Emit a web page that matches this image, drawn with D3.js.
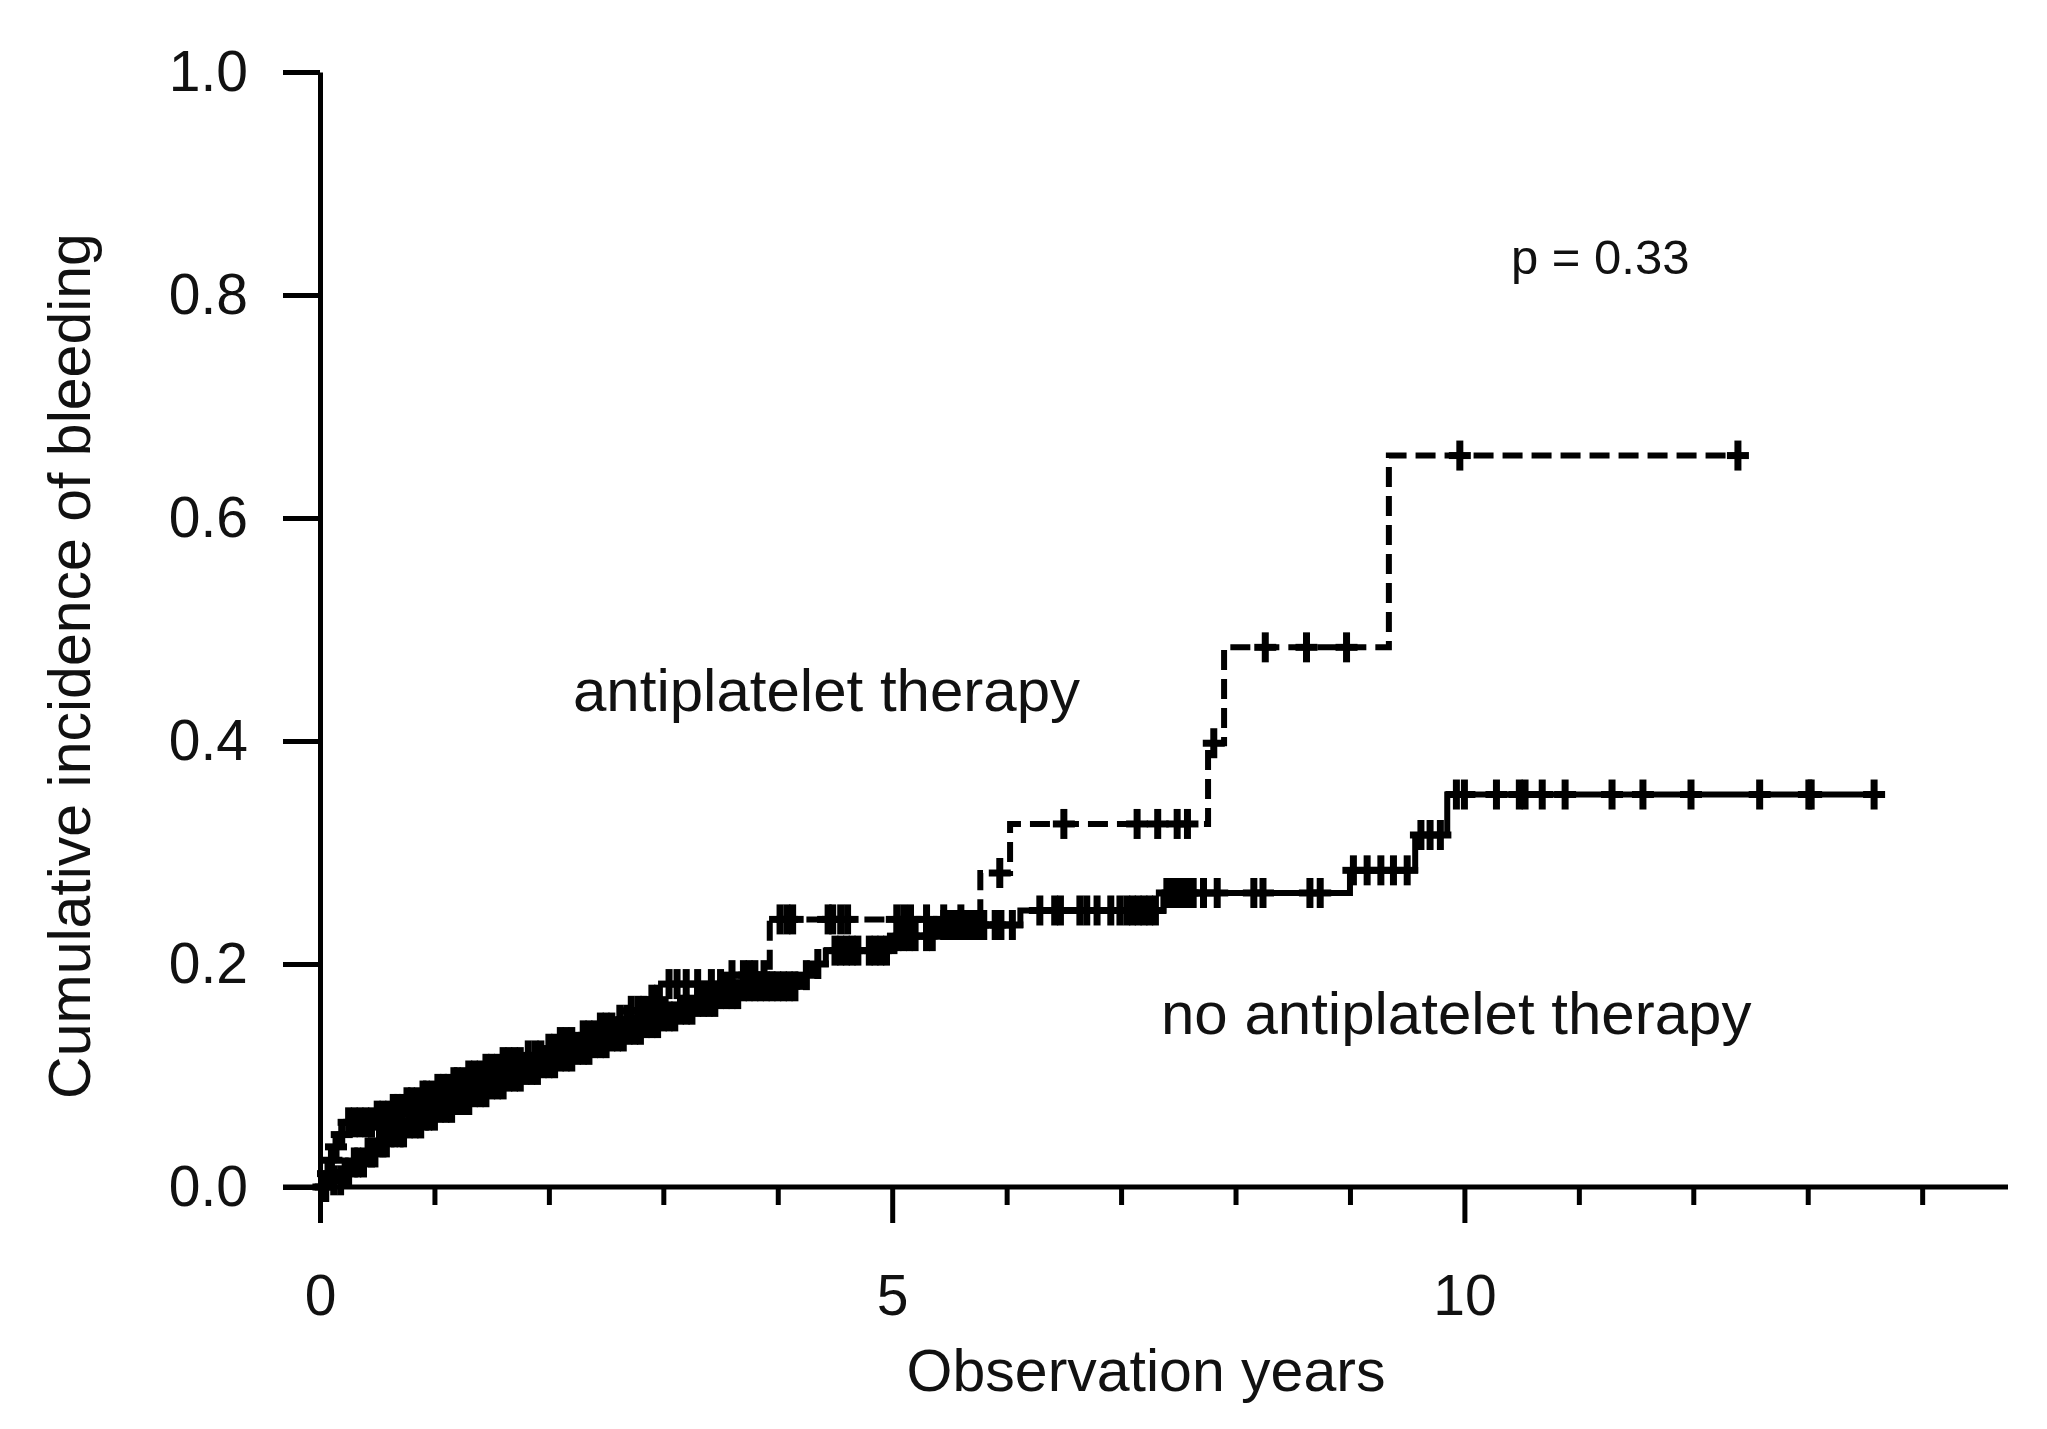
<!DOCTYPE html>
<html>
<head>
<meta charset="utf-8">
<script src="https://cdn.jsdelivr.net/npm/d3@7"></script>
<style>
  body { margin: 0; background: #fff; }
  svg { display: block; font-family: "Liberation Sans", Arial, sans-serif; }
</style>
</head>
<body>
<svg id="chart" width="2047" height="1429"></svg>
<script>
// antiplatelet therapy (dashed): event times (years) and cumulative incidence
const apTimes = [0, 0.04, 0.08, 0.12, 0.17, 0.22, 0.5, 0.62, 0.75, 0.88, 1.0, 1.15, 1.3, 1.45, 1.6, 1.78, 1.95, 2.1, 2.25, 2.42, 2.58, 2.72, 2.85, 2.97, 3.55, 3.93, 5.77, 6.03, 7.76, 7.90, 9.34];
const apVals = [0, 0.012, 0.024, 0.036, 0.047, 0.058, 0.064, 0.07, 0.076, 0.082, 0.088, 0.094, 0.1, 0.106, 0.112, 0.118, 0.124, 0.13, 0.136, 0.143, 0.15, 0.158, 0.168, 0.182, 0.19, 0.24, 0.2816, 0.3256, 0.398, 0.484, 0.656];
const apEnd = 12.39;
const apCensored = [0.03, 0.07, 0.1, 0.14, 0.19, 0.25, 0.3, 0.35, 0.4, 0.45, 0.5, 0.55, 0.6, 0.64, 0.68, 0.72, 0.76, 0.8, 0.85, 0.9, 0.93, 0.98, 1.03, 1.08, 1.12, 1.17, 1.2, 1.25, 1.3, 1.35, 1.4, 1.45, 1.5, 1.55, 1.6, 1.65, 1.7, 1.75, 1.82, 1.88, 1.93, 2.0, 2.05, 2.1, 2.15, 2.2, 2.3, 2.35, 2.4, 2.45, 2.5, 2.55, 2.62, 2.68, 2.72, 2.78, 2.83, 2.9, 2.95, 3.05, 3.12, 3.2, 3.3, 3.42, 3.5, 3.6, 3.7, 3.75, 3.8, 3.88, 4.02, 4.08, 4.13, 4.44, 4.48, 4.55, 4.61, 5.04, 5.1, 5.16, 5.3, 5.45, 5.6, 5.94, 6.5, 7.14, 7.32, 7.49, 7.58, 7.81, 8.26, 8.62, 8.97, 9.96, 12.39];

// no antiplatelet therapy (solid)
const npTimes = [0, 0.1, 0.2, 0.3, 0.4, 0.5, 0.62, 0.75, 0.9, 1.05, 1.2, 1.35, 1.5, 1.65, 1.8, 1.95, 2.1, 2.25, 2.4, 2.55, 2.7, 2.85, 3.0, 3.15, 3.3, 3.5, 3.7, 4.2, 4.3, 4.42, 5.0, 5.4, 6.12, 7.37, 9.0, 9.57, 9.85];
const npVals = [0, 0.006, 0.013, 0.022, 0.031, 0.04, 0.049, 0.057, 0.064, 0.071, 0.078, 0.085, 0.092, 0.099, 0.105, 0.111, 0.117, 0.123, 0.129, 0.135, 0.141, 0.147, 0.153, 0.159, 0.166, 0.173, 0.18, 0.19, 0.2, 0.212, 0.225, 0.235, 0.248, 0.2637, 0.284, 0.3157, 0.352];
const npEnd = 13.6;
const npCensored = [0.05, 0.12, 0.18, 0.22, 0.25, 0.3, 0.33, 0.38, 0.42, 0.45, 0.48, 0.52, 0.55, 0.58, 0.62, 0.65, 0.7, 0.73, 0.78, 0.83, 0.88, 0.92, 0.95, 1.0, 1.05, 1.1, 1.15, 1.2, 1.25, 1.3, 1.35, 1.4, 1.45, 1.5, 1.55, 1.6, 1.65, 1.7, 1.75, 1.8, 1.85, 1.9, 1.95, 2.0, 2.05, 2.1, 2.15, 2.2, 2.25, 2.3, 2.35, 2.4, 2.45, 2.5, 2.55, 2.6, 2.65, 2.7, 2.75, 2.8, 2.85, 2.9, 2.95, 3.0, 3.05, 3.1, 3.15, 3.2, 3.25, 3.3, 3.35, 3.4, 3.45, 3.5, 3.55, 3.6, 3.65, 3.7, 3.75, 3.8, 3.85, 3.9, 3.95, 4.0, 4.05, 4.1, 4.15, 4.25, 4.35, 4.5, 4.55, 4.6, 4.65, 4.7, 4.8, 4.85, 4.9, 4.95, 5.05, 5.1, 5.15, 5.2, 5.3, 5.35, 5.45, 5.5, 5.55, 5.6, 5.65, 5.7, 5.75, 5.8, 5.9, 5.95, 6.05, 6.29, 6.42, 6.47, 6.64, 6.7, 6.79, 6.91, 6.99, 7.05, 7.1, 7.15, 7.2, 7.25, 7.3, 7.4, 7.45, 7.5, 7.55, 7.58, 7.63, 7.72, 7.84, 8.16, 8.24, 8.65, 8.74, 9.03, 9.15, 9.27, 9.38, 9.5, 9.62, 9.7, 9.79, 9.93, 10.0, 10.28, 10.48, 10.53, 10.68, 10.88, 11.29, 11.56, 11.98, 12.58, 13.01, 13.03, 13.58];

const yTicks = [0, 0.2, 0.4, 0.6, 0.8, 1.0];
const xMajorTicks = [0, 5, 10];
const xMinorTicks = [1, 2, 3, 4, 6, 7, 8, 9, 11, 12, 13, 14];

const svg = d3.select('#chart');
svg.append('rect').attr('width', 2047).attr('height', 1429).attr('fill', '#fff');

const x = d3.scaleLinear().domain([0, 14.75]).range([320, 2008]);
const y = d3.scaleLinear().domain([0, 1]).range([1187, 72]);

// y axis
const yAxis = svg.append('g')
  .attr('transform', 'translate(320,0)')
  .call(d3.axisLeft(y).tickValues(yTicks).tickFormat(d3.format('.1f')).tickSize(37).tickSizeOuter(0).tickPadding(35));
yAxis.select('.domain').attr('stroke-width', 5);
yAxis.selectAll('.tick line').attr('stroke-width', 5);
yAxis.selectAll('.tick text').attr('font-size', 57).attr('fill', '#111');

// x axis: minor ticks first, then major with labels
const xMinor = svg.append('g')
  .attr('transform', 'translate(0,1187)')
  .call(d3.axisBottom(x).tickValues(xMinorTicks).tickFormat('').tickSize(18).tickSizeOuter(0));
xMinor.select('.domain').remove();
xMinor.selectAll('.tick line').attr('stroke-width', 5);

const xMajor = svg.append('g')
  .attr('transform', 'translate(0,1187)')
  .call(d3.axisBottom(x).tickValues(xMajorTicks).tickFormat(d3.format('d')).tickSize(36).tickSizeOuter(0).tickPadding(52));
xMajor.select('.domain').remove();
xMajor.selectAll('.tick line').attr('stroke-width', 5);
xMajor.selectAll('.tick text').attr('font-size', 57).attr('fill', '#111');

// x axis baseline spans from the y tick ends to the right edge
svg.append('line')
  .attr('x1', 283).attr('x2', x(14.75))
  .attr('y1', y(0)).attr('y2', y(0))
  .attr('stroke', '#000').attr('stroke-width', 5);

// step curves
const stepLine = d3.line()
  .x((d) => x(d[0]))
  .y((d) => y(d[1]))
  .curve(d3.curveStepAfter);

const makePoints = (times, vals, end) => {
  const pts = times.map((t, i) => [t, vals[i]]);
  pts.push([end, vals[vals.length - 1]]);
  return pts;
};

const valueAt = (times, vals, t) => {
  let v = 0;
  for (let i = 0; i < times.length; i++) {
    if (times[i] <= t) v = vals[i];
  }
  return v;
};

const series = [
  { times: npTimes, vals: npVals, end: npEnd, cens: npCensored, dash: null },
  { times: apTimes, vals: apVals, end: apEnd, cens: apCensored, dash: '20,9' }
];

series.forEach((s) => {
  svg.append('path')
    .datum(makePoints(s.times, s.vals, s.end))
    .attr('d', stepLine)
    .attr('fill', 'none')
    .attr('stroke', '#000')
    .attr('stroke-width', 6)
    .attr('stroke-dasharray', s.dash);

  const marks = svg.append('g')
    .selectAll('g')
    .data(s.cens)
    .enter()
    .append('g')
    .attr('transform', (t) => 'translate(' + x(t) + ',' + y(valueAt(s.times, s.vals, t)) + ')');
  marks.append('line')
    .attr('x1', 0).attr('x2', 0).attr('y1', -15).attr('y2', 15)
    .attr('stroke', '#000').attr('stroke-width', 7);
  marks.append('line')
    .attr('x1', -11).attr('x2', 11).attr('y1', 0).attr('y2', 0)
    .attr('stroke', '#000').attr('stroke-width', 7);
});

// texts
svg.append('text')
  .attr('x', 1146).attr('y', 1391)
  .attr('text-anchor', 'middle')
  .attr('font-size', 59).attr('fill', '#111')
  .text('Observation years');

svg.append('text')
  .attr('transform', 'translate(90,666) rotate(-90)')
  .attr('text-anchor', 'middle')
  .attr('font-size', 59).attr('fill', '#111')
  .text('Cumulative incidence of bleeding');

svg.append('text')
  .attr('x', 573).attr('y', 711)
  .attr('font-size', 60).attr('fill', '#111')
  .text('antiplatelet therapy');

svg.append('text')
  .attr('x', 1161).attr('y', 1034)
  .attr('font-size', 60).attr('fill', '#111')
  .text('no antiplatelet therapy');

svg.append('text')
  .attr('x', 1511).attr('y', 274)
  .attr('font-size', 49).attr('fill', '#111')
  .text('p = 0.33');
</script>
</body>
</html>
